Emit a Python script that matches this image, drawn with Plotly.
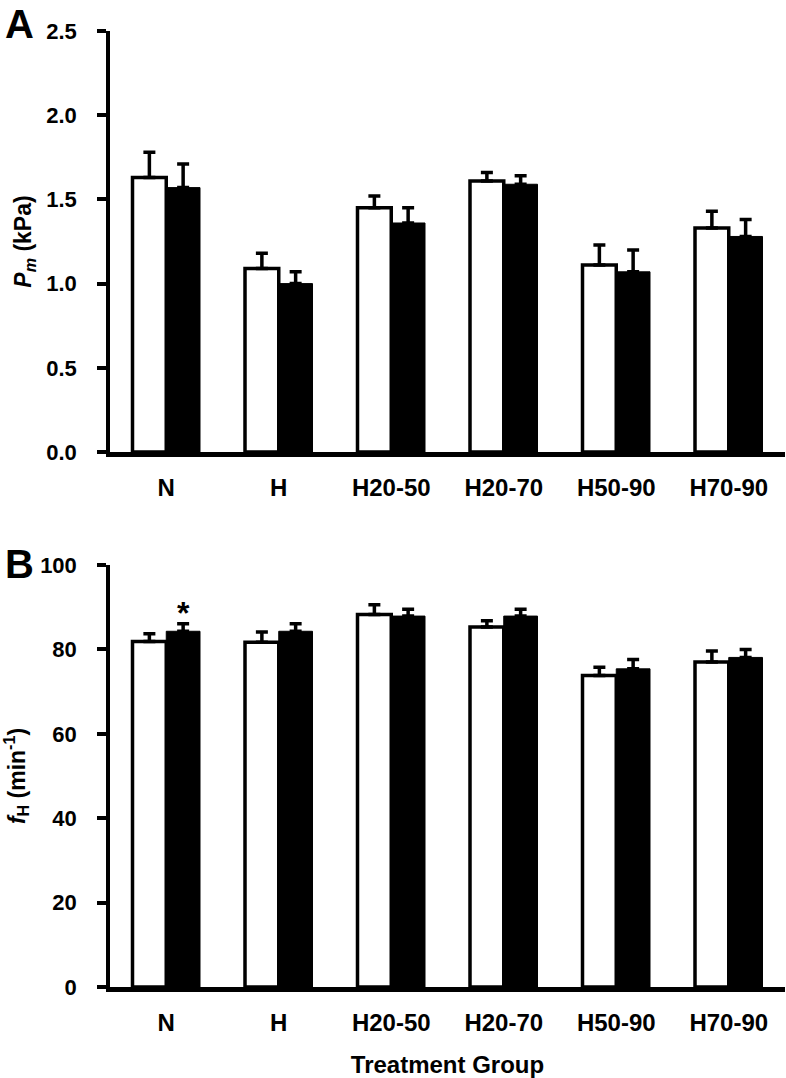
import plotly.graph_objects as go
from plotly.subplots import make_subplots

groups = ["N", "H", "H20-50", "H20-70", "H50-90", "H70-90"]

# Panel A: Pm (kPa)
pm_white = [1.63, 1.09, 1.45, 1.61, 1.11, 1.33]
pm_white_err = [0.15, 0.09, 0.07, 0.05, 0.12, 0.10]
pm_black = [1.57, 1.00, 1.36, 1.59, 1.07, 1.28]
pm_black_err = [0.14, 0.07, 0.09, 0.05, 0.13, 0.10]

# Panel B: fH (min-1)
fh_white = [81.9, 81.7, 88.3, 85.3, 73.8, 77.0]
fh_white_err = [1.8, 2.4, 2.3, 1.5, 2.0, 2.6]
fh_black = [84.3, 84.3, 87.9, 87.9, 75.4, 78.1]
fh_black_err = [1.8, 1.8, 1.6, 1.6, 2.2, 1.9]

FONT = "Liberation Sans, Arial, sans-serif"

fig = make_subplots(rows=2, cols=1, vertical_spacing=0.118)

def add_pair(row, white, werr, black, berr):
    fig.add_trace(go.Bar(
        x=groups, y=white,
        marker=dict(color="white", line=dict(color="black", width=3.5)),
        error_y=dict(type="data", array=werr, arrayminus=[0]*len(werr), symmetric=False,
                     color="black", thickness=3.5, width=6),
        showlegend=False, hoverinfo="skip"), row=row, col=1)
    fig.add_trace(go.Bar(
        x=groups, y=black,
        marker=dict(color="black", line=dict(color="black", width=1)),
        error_y=dict(type="data", array=berr, arrayminus=[0]*len(berr), symmetric=False,
                     color="black", thickness=3.5, width=6),
        showlegend=False, hoverinfo="skip"), row=row, col=1)

add_pair(1, pm_white, pm_white_err, pm_black, pm_black_err)
add_pair(2, fh_white, fh_white_err, fh_black, fh_black_err)

fig.update_layout(
    width=786, height=1078,
    margin=dict(l=110, r=1, t=31, b=91),
    paper_bgcolor="white", plot_bgcolor="white",
    bargap=0.4, bargroupgap=0, barmode="group",
    font=dict(family=FONT, color="black"),
)

common_x = dict(showline=True, linecolor="black", linewidth=4.5, ticks="",
                showgrid=False, zeroline=False,
                tickfont=dict(family=FONT, size=24, weight="bold", color="black"),
                ticklabelstandoff=10)
fig.update_xaxes(**common_x, row=1, col=1)
fig.update_xaxes(**common_x, row=2, col=1,
                 title=dict(text="Treatment Group",
                            font=dict(family=FONT, size=24, weight="bold", color="black"),
                            standoff=26))
fig.layout.yaxis.domain = [0.5596, 1.0]
fig.layout.yaxis2.domain = [0.0, 0.4414]

common_y = dict(showline=True, linecolor="black", linewidth=3.5, ticks="outside",
                ticklen=9, tickwidth=3.5, tickcolor="black", showgrid=False, zeroline=False,
                tickfont=dict(family=FONT, size=22, weight="bold", color="black"),
                ticklabelstandoff=16)
fig.update_yaxes(**common_y, row=1, col=1, range=[0, 2.5], tickvals=[0, 0.5, 1.0, 1.5, 2.0, 2.5],
                 tickformat=".1f",
                 title=dict(text="<i>P</i><sub><i>m</i></sub> (kPa)",
                            font=dict(family=FONT, size=23, weight="bold", color="black"),
                            standoff=9))
fig.update_yaxes(**common_y, row=2, col=1, range=[0, 100], tickvals=[0, 20, 40, 60, 80, 100],
                 title=dict(text="<i>f</i><sub>H</sub> (min<sup>-1</sup>)",
                            font=dict(family=FONT, size=23, weight="bold", color="black"),
                            standoff=11))

# Panel labels
fig.add_annotation(text="A", xref="paper", yref="paper", x=-110/675, y=1.0322,
                   xanchor="left", yanchor="top", showarrow=False, xshift=3,
                   font=dict(family=FONT, size=40, weight="bold", color="black"))
fig.add_annotation(text="B", xref="paper", yref="paper", x=-110/675, y=0.4676,
                   xanchor="left", yanchor="top", showarrow=False, xshift=3,
                   font=dict(family=FONT, size=40, weight="bold", color="black"))

# Significance asterisk above black bar of N in panel B
fig.add_annotation(text="*", xref="x2", yref="y2", x=0.15,
                   y=fh_black[0] + fh_black_err[0] + 2.6,
                   showarrow=False, yanchor="middle",
                   font=dict(family=FONT, size=32, weight="bold", color="black"))

fig.write_html("out.html", config={"displayModeBar": False},
               post_script="document.body.style.margin='0';")
